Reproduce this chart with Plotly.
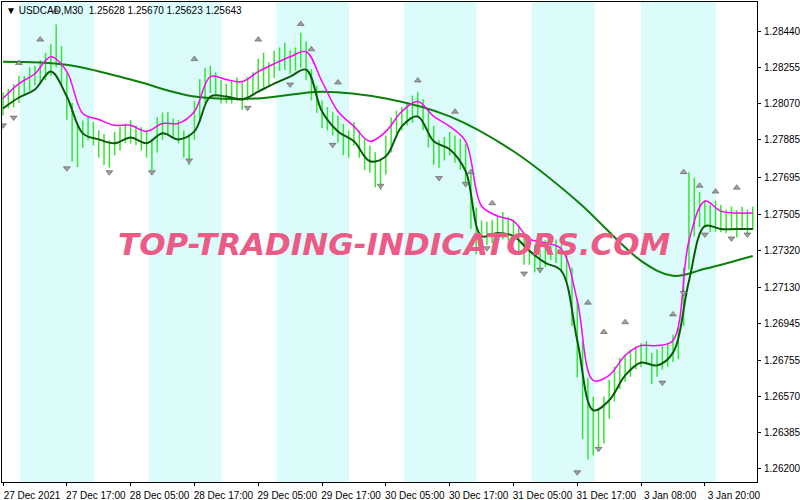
import plotly.graph_objects as go

# hourly closes from 27 Dec 05:00
closes = [1.28082,1.28108,1.28123,1.28159,1.28174,1.28210,1.28225,1.28246,1.28276,1.28312,
          1.28389,1.28287,1.28133,1.27955,1.27878,1.27929,1.27955,1.27929,1.27878,1.27852,
          1.27827,1.27878,1.27903,1.27929,1.27939,1.27919,1.27903,1.27878,1.27827,1.27929,
          1.27970,1.27980,1.27955,1.27939,1.27878,1.27852,1.28006,1.28108,1.28184,1.28210,
          1.28184,1.28144,1.28133,1.28144,1.28159,1.28123,1.28159,1.28184,1.28236,1.28261,
          1.28236,1.28287,1.28312,1.28328,1.28297,1.28312,1.28363,1.28312,1.28184,1.28108,
          1.28031,1.28006,1.27980,1.27955,1.27903,1.27878,1.27929,1.27878,1.27827,1.27801,
          1.27750,1.27725,1.27827,1.27929,1.27980,1.28006,1.28031,1.28057,1.28082,1.28031,
          1.27955,1.27878,1.27827,1.27852,1.27878,1.27852,1.27827,1.27776,1.27597,1.27443,
          1.27408,1.27418,1.27428,1.27443,1.27459,1.27443,1.27428,1.27392,1.27341,1.27316,
          1.27290,1.27275,1.27316,1.27341,1.27326,1.27290,1.27254,1.27111,1.26907,1.26651,
          1.26498,1.26447,1.26421,1.26472,1.26575,1.26651,1.26703,1.26728,1.26754,1.26779,
          1.26794,1.26805,1.26728,1.26754,1.26779,1.26794,1.26830,1.26856,1.27111,1.27520,
          1.27571,1.27546,1.27520,1.27495,1.27510,1.27495,1.27479,1.27495,1.27469,1.27495,
          1.27479,1.27495]
# bar ranges in units of 0.0001
ranges = [12,10,12,14,10,12,10,12,14,16,22,20,24,30,22,14,12,12,14,16,
          14,12,12,10,12,10,12,14,16,18,14,12,10,12,14,16,20,22,18,14,
          12,12,10,12,12,14,12,12,16,18,12,14,12,14,12,12,18,20,16,14,
          14,12,12,14,16,14,12,14,16,14,18,16,20,18,14,12,12,14,12,16,
          18,20,14,12,12,14,16,22,28,24,16,12,12,12,14,12,12,14,16,12,
          14,12,14,12,12,14,16,30,40,50,42,30,22,24,20,18,16,14,14,12,
          12,12,16,14,12,12,14,16,30,50,30,18,14,14,16,14,12,12,14,12,
          12,12]
hours = list(range(len(closes)))

line_hours = list(range(0, 142, 3))
magenta = [1.28098,1.28174,1.28225,1.28312,1.28236,1.28021,1.27990,1.27960,1.27960,1.27929,
           1.27970,1.27970,1.28031,1.28210,1.28195,1.28184,1.28236,1.28276,1.28312,1.28338,
           1.28184,1.28031,1.27955,1.27878,1.27929,1.28031,1.28082,1.28006,1.27955,1.27878,
           1.27546,1.27495,1.27469,1.27377,1.27357,1.27326,1.27060,1.26651,1.26677,1.26779,
           1.26830,1.26830,1.26856,1.27367,1.27571,1.27520,1.27510,1.27510]
dark = [1.28047,1.28103,1.28144,1.28236,1.28108,1.27919,1.27888,1.27868,1.27898,1.27868,
        1.27919,1.27888,1.27929,1.28108,1.28108,1.28093,1.28133,1.28174,1.28210,1.28246,
        1.28031,1.27929,1.27878,1.27776,1.27801,1.27955,1.28006,1.27878,1.27837,1.27725,
        1.27392,1.27408,1.27392,1.27316,1.27254,1.27214,1.26856,1.26498,1.26549,1.26677,
        1.26743,1.26728,1.26794,1.27162,1.27443,1.27428,1.27428,1.27428]
ma_hours = [0,12,24,36,48,60,72,84,96,108,120,126,132,141]
ma = [1.28287,1.28271,1.28195,1.28108,1.28098,1.28133,1.28098,1.28006,1.27827,1.27571,
      1.27265,1.27188,1.27224,1.27290]

up_h = [10,7,3,36,48,56,58,63,78,85,88,92,110,113,117,126,128,131,134,138]
up_p = [1.28550,1.28400,1.28280,1.28300,1.28400,1.28480,1.28350,1.28180,1.28190,1.28030,
        1.27720,1.27560,1.27050,1.26900,1.26950,1.26990,1.27720,1.27650,1.27620,1.27640]
dn_h = [0,2,12,20,28,35,46,54,62,71,82,87,91,98,101,108,112,124,128,132,137,140]
dn_p = [1.27960,1.28000,1.27740,1.27720,1.27720,1.27780,1.28050,1.28170,1.27860,1.27650,
        1.27690,1.27660,1.27330,1.27200,1.27220,1.26180,1.26300,1.26640,1.27100,1.27400,
        1.27380,1.27400]

bands = [(3.2, 17.1), (27.4, 41.1), (51.4, 65.1), (75.4, 89.1), (99.4, 111.3), (120.0, 134.1)]
tick_hours = [0,12,24,36,48,60,72,84,96,108,120,132]
tick_text = ["27 Dec 2021","27 Dec 17:00","28 Dec 05:00","28 Dec 17:00","29 Dec 05:00",
             "29 Dec 17:00","30 Dec 05:00","30 Dec 17:00","31 Dec 05:00","31 Dec 17:00",
             "3 Jan 08:00","3 Jan 20:00"]
price_ticks = [1.28440,1.28255,1.28070,1.27885,1.27695,1.27505,1.27320,1.27130,1.26945,
               1.26755,1.26570,1.26385,1.26200]

fig = go.Figure()
bx, by = [], []
for h, c, r in zip(hours, closes, ranges):
    bx += [h, h, None]
    by += [c - r * 0.00006, c + r * 0.00004, None]
fig.add_trace(go.Scatter(x=bx, y=by, mode="lines", line=dict(color="#33e633", width=1.5),
                         hoverinfo="skip"))
fig.add_trace(go.Scatter(x=ma_hours, y=ma, mode="lines", line=dict(color="#0a800a", width=2, shape="spline")))
fig.add_trace(go.Scatter(x=line_hours, y=magenta, mode="lines", line=dict(color="#ff00ff", width=1.5, shape="spline")))
fig.add_trace(go.Scatter(x=line_hours, y=dark, mode="lines", line=dict(color="#0a5a0a", width=2, shape="spline")))
fig.add_trace(go.Scatter(x=up_h, y=up_p, mode="markers",
                         marker=dict(symbol="triangle-up", size=6, color="#a0a0a0", line=dict(color="#404040", width=0.5))))
fig.add_trace(go.Scatter(x=dn_h, y=dn_p, mode="markers",
                         marker=dict(symbol="triangle-down", size=6, color="#a0a0a0", line=dict(color="#404040", width=0.5))))

shapes = [dict(type="rect", xref="x", yref="paper", x0=a, x1=b, y0=0, y1=1,
               fillcolor="#dcfcfc", line=dict(width=0), layer="below") for a, b in bands]
fig.update_layout(
    width=800, height=500, showlegend=False, plot_bgcolor="white", paper_bgcolor="white",
    margin=dict(l=2, r=43, t=2, b=18, autoexpand=False), shapes=shapes,
    font=dict(family="Liberation Sans", size=10, color="black"),
    xaxis=dict(range=[-0.19, 141.8], tickvals=tick_hours, ticktext=tick_text, showgrid=False,
               zeroline=False, showline=True, linecolor="black", mirror=True, ticks="outside",
               ticklen=3, tickcolor="black", tickfont=dict(size=10), tickangle=0,
               ticklabelshift=29, ticklabelstandoff=1, automargin=False),
    yaxis=dict(range=[1.26130, 1.28593], side="right", tickvals=price_ticks,
               ticktext=[f"{p:.5f}" for p in price_ticks], showgrid=False, zeroline=False,
               showline=True, linecolor="black", mirror=True, ticks="outside", ticklen=3,
               tickcolor="black", tickfont=dict(size=10), ticklabelstandoff=1, automargin=False),
    annotations=[
        dict(text="▼ USDCAD,M30  1.25628 1.25670 1.25623 1.25643", xref="paper", yref="paper",
             x=0.003, y=0.997, xanchor="left", yanchor="top", showarrow=False,
             font=dict(size=10, color="black"), bgcolor="rgba(255,255,255,0)"),
        dict(text="<b><i>TOP-TRADING-INDICATORS.COM</i></b>", xref="paper", yref="paper",
             x=0.52, y=0.495, showarrow=False, font=dict(size=31, color="#ec5a86", family="DejaVu Sans")),
    ],
)
fig.write_html("out.html", config={"displayModeBar": False},
               post_script="document.body.style.margin='0';document.body.style.overflow='hidden';")
